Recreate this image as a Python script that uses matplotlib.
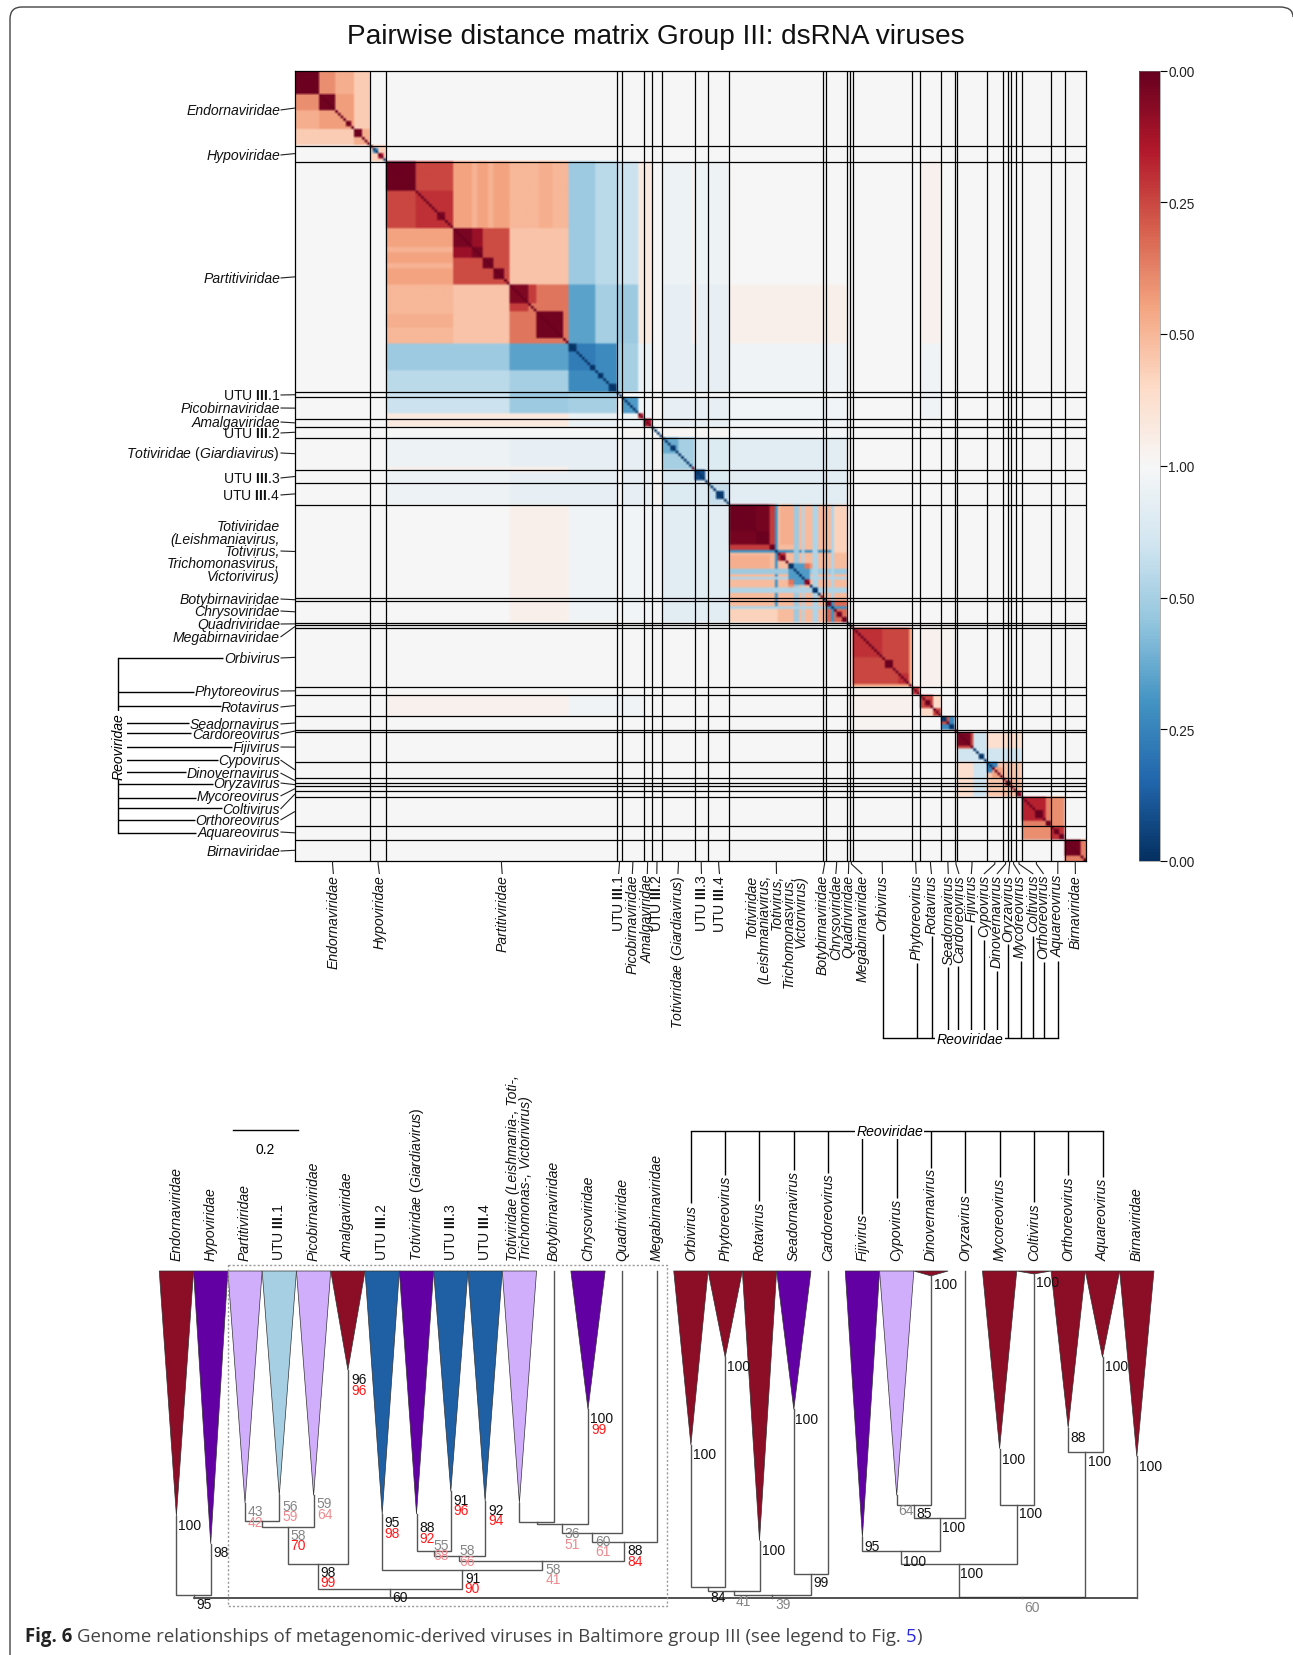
import numpy as np
import matplotlib
matplotlib.use('Agg')
import matplotlib.pyplot as plt
from matplotlib.path import Path
from matplotlib.patches import PathPatch

plt.rcParams['font.family'] = ['Liberation Sans', 'DejaVu Sans']
plt.rcParams['mathtext.fontset'] = 'custom'
plt.rcParams['mathtext.rm'] = 'Liberation Sans'
plt.rcParams['mathtext.it'] = 'Liberation Sans:italic'
plt.rcParams['mathtext.bf'] = 'Liberation Sans:bold'

W, H = 1293, 1656

####################### DADOS - matriz
n_seq = 295
group_edges = [0, 28, 34, 120, 122, 130, 133, 137, 149, 154, 162, 197, 198, 206, 207, 208,
               230, 233, 241, 246, 247, 258, 264, 266, 267, 269, 271, 282, 287, 295]

# (linha0, linha1, coluna0, coluna1, valor) - pintado em ordem e espelhado
between_blocks = [
    (122, 206, 122, 206, -0.12), (122, 133, 137, 162, -0.25), (137, 162, 137, 162, -0.4),
    (133, 137, 122, 206, 0.03),
    (137, 162, 34, 80, -0.15), (137, 162, 80, 120, -0.25),
    (162, 206, 137, 162, -0.35), (162, 206, 133, 137, -0.05), (162, 206, 122, 133, -0.08),
    (162, 206, 80, 102, 0.15), (162, 206, 102, 120, -0.1), (162, 206, 34, 80, 0.02),
    (149, 150, 80, 102, 0.15), (120, 128, 34, 80, -0.65), (120, 128, 80, 102, -1.1),
    (120, 128, 102, 120, -1.0), (128, 133, 34, 102, 0.3), (128, 133, 102, 120, -0.2),
    (148, 149, 34, 102, 0.15), (233, 241, 34, 102, 0.12), (233, 241, 102, 130, -0.1),
    (230, 246, 208, 230, 0.08), (233, 241, 208, 230, 0.12),
]
endorna_blocks = [
    (0, 28, 0, 28, 1.25), (0, 22, 22, 28, 0.75), (0, 9, 15, 22, 1.1), (0, 9, 9, 15, 1.4),
    (0, 9, 0, 9, 2.95), (9, 15, 9, 15, 2.9), (19, 21, 19, 21, 2.8),
    (22, 28, 22, 28, 1.1), (22, 25, 22, 25, 2.9),
]
hypo_blocks = [
    (28, 34, 28, 34, 0.7), (29, 31, 29, 31, -1.8), (31, 33, 31, 33, 2.4),
]
partiti_blocks = [
    (34, 102, 34, 102, 1.1), (34, 59, 59, 80, 1.2), (34, 59, 80, 102, 1.0), (59, 80, 80, 102, 0.85),
    (66, 68, 34, 59, 1.05), (72, 74, 34, 59, 1.05), (91, 96, 34, 59, 1.1), (96, 99, 59, 80, 0.85),
    (34, 59, 34, 59, 2.0), (34, 45, 34, 45, 2.95), (45, 59, 45, 59, 2.2), (51, 52, 51, 52, 2.9),
    (53, 56, 53, 56, 2.8), (59, 80, 59, 80, 1.95), (59, 70, 59, 70, 2.85), (66, 70, 59, 66, 2.6),
    (70, 74, 70, 74, 2.9), (74, 78, 74, 78, 2.9),
    (80, 102, 80, 102, 1.6), (80, 87, 80, 87, 2.8), (90, 100, 90, 100, 2.9), (87, 90, 80, 87, 2.1),
    (34, 80, 102, 112, -1.1), (34, 80, 112, 120, -0.8), (80, 102, 102, 112, -1.6),
    (80, 102, 112, 120, -1.0), (102, 120, 102, 120, -1.9), (102, 112, 102, 112, -2.1),
    (102, 105, 102, 105, -2.9), (110, 112, 110, 112, -2.9), (113, 115, 113, 115, -2.9),
    (117, 120, 117, 120, -2.9),
]
middle_blocks = [
    (122, 128, 122, 128, -1.7), (130, 133, 130, 133, 2.4), (128, 130, 128, 130, 2.2),
    (137, 143, 137, 143, -1.5), (140, 142, 140, 142, -2.8), (143, 149, 137, 149, -1.0),
    (149, 153, 149, 153, -2.7), (154, 162, 154, 162, -0.7), (157, 160, 157, 160, -2.8),
]
toti_blocks = [
    (162, 206, 162, 206, 0.95), (162, 206, 179, 180, -1.8), (162, 206, 186, 188, -1.1),
    (162, 206, 189, 190, -0.9), (162, 206, 193, 195, -0.9), (162, 206, 200, 201, -0.9),
    (162, 180, 201, 206, 0.7), (162, 177, 181, 186, 1.1), (186, 188, 186, 188, -1.2),
    (162, 177, 162, 177, 2.95), (172, 177, 162, 172, 2.88), (177, 179, 162, 177, 2.1),
    (177, 179, 177, 179, 2.9), (180, 183, 180, 183, 2.2), (181, 183, 181, 183, 2.8),
    (184, 192, 184, 192, -1.7), (184, 186, 184, 186, -2.9), (190, 192, 190, 192, 2.5),
    (190, 193, 184, 186, 1.6), (184, 186, 192, 193, 1.3), (193, 195, 193, 195, -2.9),
    (198, 206, 198, 206, 1.7), (198, 200, 198, 200, 2.8), (200, 201, 198, 206, -1.8),
    (202, 204, 202, 204, 2.8), (204, 206, 204, 206, 2.9),
]
reo_blocks = [
    (208, 230, 208, 230, 2.0), (208, 219, 208, 219, 2.2), (225, 229, 225, 229, 2.2),
    (220, 223, 220, 223, 2.95), (229, 230, 208, 230, 1.2),
    (230, 233, 230, 233, 2.1), (231, 232, 231, 232, 3.0),
    (233, 241, 233, 241, 0.6), (233, 238, 233, 238, 2.0), (235, 237, 235, 237, 2.9), (238, 241, 238, 241, 2.0),
    (241, 246, 241, 246, -1.9), (241, 243, 241, 243, -2.9), (244, 246, 244, 246, -2.9), (243, 244, 241, 243, 1.9),
    (247, 271, 247, 271, 0.5), (253, 258, 247, 271, -0.6), (247, 253, 247, 253, 2.0),
    (247, 252, 247, 252, 2.85), (255, 257, 255, 257, -2.9), (258, 271, 258, 271, 0.8),
    (258, 260, 258, 262, -2.0), (260, 264, 260, 264, 1.2), (264, 271, 264, 271, 0.9),
    (265, 267, 265, 267, 2.9), (269, 271, 269, 271, 2.6),
    (271, 287, 271, 287, 1.4), (271, 282, 271, 282, 2.3), (276, 279, 276, 279, 2.95),
    (280, 282, 271, 282, 1.5), (280, 282, 280, 282, 2.9), (282, 287, 282, 287, 2.2),
    (283, 285, 283, 285, 2.9), (285, 287, 285, 287, 2.9),
    (287, 295, 287, 295, 1.5), (287, 293, 287, 293, 2.9), (294, 295, 294, 295, 2.9),
]
# trechos da diagonal em azul escuro, o resto da diagonal e vermelho escuro
diag_blue = [(29, 31), (33, 34), (102, 128), (133, 148), (149, 162), (179, 180), (184, 190),
             (192, 196), (197, 198), (200, 201), (206, 207), (241, 243), (244, 246), (253, 260)]

cbar_ticks = [-3, -2, -1, 0, 1, 2, 3]
cbar_labels = ['0.00', '0.25', '0.50', '1.00', '0.50', '0.25', '0.00']

# nomes dos grupos (mesma ordem de group_edges)
group_names = ['Endornaviridae', 'Hypoviridae', 'Partitiviridae', 'UTU III.1', 'Picobirnaviridae',
               'Amalgaviridae', 'UTU III.2', 'Totiviridae (Giardiavirus)', 'UTU III.3', 'UTU III.4',
               'Totiviridae\n(Leishmaniavirus,\nTotivirus,\nTrichomonasvirus,\nVictorivirus)',
               'Botybirnaviridae', 'Chrysoviridae', 'Quadriviridae', 'Megabirnaviridae',
               'Orbivirus', 'Phytoreovirus', 'Rotavirus', 'Seadornavirus', 'Cardoreovirus', 'Fijivirus',
               'Cypovirus', 'Dinovernavirus', 'Oryzavirus', 'Mycoreovirus', 'Coltivirus',
               'Orthoreovirus', 'Aquareovirus', 'Birnaviridae']
# altura (pixel) de cada rotulo a esquerda e posicao x de cada rotulo abaixo
left_label_y = [111, 156, 279, 396, 409, 423, 434, 454, 479, 496, 552, 600, 612, 625, 638, 659,
                692, 708, 725, 735, 748, 761, 774, 784, 797, 810, 821, 833, 852]
bottom_label_x = [333.4, 379.4, 502.2, 618.6, 632.3, 647.3, 656.8, 677.9, 701.5, 719.5, 776.5,
                  822.8, 835.8, 848.4, 862.2, 882.5, 916.2, 931.5, 948.3, 959, 971.3, 983.9,
                  996.9, 1008.4, 1019.9, 1033.3, 1043.6, 1057.8, 1075.4]
# Reoviridae: fim das hastes em cada lado (pixel)
reo_left_end_x = [222.5, 193.8, 220.6, 188.8, 191, 232, 217.9, 185.7, 213.3, 195.7, 221.7, 194.9, 196.4]
reo_left_y = [659.3, 693.3, 707.3, 724.3, 734.3, 748.3, 761.3, 773.3, 785.3, 798.7, 809.3, 820.7, 834.3]
reo_bottom_x = [882.5, 916.6, 931.5, 947.6, 958.3, 971.3, 984.3, 996.5, 1008.4, 1021.4, 1033.3, 1043.6, 1057.8]
reo_bottom_top = [935, 964, 937, 968, 966.5, 926, 940.6, 972, 945, 961.7, 937, 962.8, 961.7]
reo_top_end = [1204, 1176, 1202, 1171, 1174, 1214.5, 1199, 1168.5, 1194, 1178, 1203, 1176, 1178]

####################### DADOS - arvore
DRED, PURP, LAV, LBLUE, BLUE = '#8b0d26', '#6200a4', '#d0aefb', '#a6cfe3', '#1f5fa3'
tree_names = ['Endornaviridae', 'Hypoviridae', 'Partitiviridae', 'UTU III.1', 'Picobirnaviridae',
              'Amalgaviridae', 'UTU III.2', 'Totiviridae (Giardiavirus)', 'UTU III.3', 'UTU III.4',
              'Totiviridae (Leishmania-, Toti-,\nTrichomonas-, Victorivirus)', 'Botybirnaviridae',
              'Chrysoviridae', 'Quadriviridae', 'Megabirnaviridae', 'Orbivirus', 'Phytoreovirus',
              'Rotavirus', 'Seadornavirus', 'Cardoreovirus', 'Fijivirus', 'Cypovirus', 'Dinovernavirus',
              'Oryzavirus', 'Mycoreovirus', 'Coltivirus', 'Orthoreovirus', 'Aquareovirus', 'Birnaviridae']
tip_depth = [0.749, 0.834, 0.709, 0.686, 0.686, 0.303, 0.743, 0.743, 0.674, 0.703, 0.709, 0, 0.423, 0, 0,
             0.532, 0.264, 0.825, 0.423, 0, 0.814, 0.686, 0.015, 0, 0.543, 0.009, 0.479, 0.264, 0.567]
tip_color = [DRED, PURP, LAV, LBLUE, LAV, DRED, BLUE, PURP, BLUE, BLUE, LAV, None, PURP, None, None,
             DRED, DRED, DRED, PURP, None, PURP, LAV, DRED, None, DRED, DRED, DRED, DRED, DRED]
# (filho esquerdo, filho direito, profundidade) - filho int e folha, str e no
tree_nodes = {
    'n1': (0, 1, 0.992), 'n2': (2, 3, 0.766), 'n3': ('n2', 4, 0.782), 'n4': ('n3', 5, 0.895),
    'n5': (7, 8, 0.855), 'n6': ('n5', 9, 0.871), 'n7': (10, 11, 0.769), 'n8': ('n7', 12, 0.775),
    'n9': ('n8', 13, 0.802), 'n10': ('n9', 14, 0.829), 'n11': ('n6', 'n10', 0.886),
    'n12': (6, 'n11', 0.914), 'n13': ('n4', 'n12', 0.971),
    'n14': (15, 16, 0.967), 'n15': ('n14', 17, 0.980), 'n16': (18, 19, 0.926), 'n17': ('n15', 'n16', 0.991),
    'n18': (21, 22, 0.715), 'n19': ('n18', 23, 0.756), 'n20': (20, 'n19', 0.857), 'n21': (24, 25, 0.715),
    'n22': ('n20', 'n21', 0.897), 'n23': (26, 27, 0.554), 'n24': ('n22', 'n23', 0.997),
}
root_children = ['n1', 'n13', 'n17', 'n24', 28]

K, G, R, P = '#111111', '#858585', '#ff1a1a', '#ee8b90'
support = [
    (190, 1526, '100', K), (221.4, 1552.8, '98', K), (204.3, 1605, '95', K),
    (255.4, 1512, '43', G), (255.4, 1523, '42', P), (290.4, 1506.9, '56', G), (290.4, 1517.3, '59', P),
    (324.6, 1504, '59', G), (324.6, 1514.7, '64', P), (298.2, 1536, '58', G), (298.2, 1546.5, '70', R),
    (358.9, 1380, '96', K), (358.9, 1390.6, '96', R), (328.2, 1572.6, '98', K), (328.2, 1583, '99', R),
    (400, 1597.6, '60', K), (392.5, 1523.3, '95', K), (392.5, 1533.7, '98', R),
    (426.8, 1528, '88', K), (426.8, 1538.6, '92', R), (440.7, 1546.5, '55', G), (440.7, 1556.5, '68', P),
    (461.4, 1501, '91', K), (461.4, 1511.3, '96', R), (467.5, 1551.3, '58', G), (467.5, 1561.8, '66', P),
    (495.7, 1510.6, '92', K), (495.7, 1520.7, '94', R), (472.5, 1579, '91', K), (472.5, 1589.4, '90', R),
    (552.9, 1570, '58', G), (552.9, 1580.5, '41', P), (572.5, 1533.7, '36', G), (572.5, 1544.6, '51', P),
    (602.5, 1542, '60', G), (602.5, 1552.4, '61', P), (602, 1419.4, '100', K), (599, 1429.9, '99', R),
    (635.4, 1551.3, '88', K), (635.4, 1561.8, '84', R),
    (704.4, 1455, '100', K), (739, 1367, '100', K), (773.8, 1551.5, '100', K), (807, 1420, '100', K),
    (821.5, 1583, '99', K), (718.5, 1597.8, '84', K), (743.6, 1602, '41', G), (783, 1605, '39', G),
    (945.4, 1285, '100', K), (1047.6, 1283, '100', K), (1013.2, 1460.5, '100', K), (1099.2, 1461.6, '100', K),
    (1077.8, 1438.2, '88', K), (1116.2, 1367.5, '100', K), (1150.5, 1467, '100', K),
    (906.3, 1510.7, '64', G), (924, 1514.5, '85', K), (953.5, 1528, '100', K), (1030.6, 1514.5, '100', K),
    (872.4, 1547, '95', K), (914.3, 1561.6, '100', K), (972, 1574.5, '100', K), (1031.8, 1607.6, '60', G),
]

####################### MONTA A MATRIZ
matrix = np.zeros((n_seq, n_seq))
for blocks in [between_blocks, endorna_blocks, hypo_blocks, partiti_blocks,
               middle_blocks, toti_blocks, reo_blocks]:
    for r0, r1, c0, c1, val in blocks:
        matrix[r0:r1, c0:c1] = val
        matrix[c0:c1, r0:r1] = val
np.fill_diagonal(matrix, 3)
for d0, d1 in diag_blue:
    for i in range(d0, d1):
        matrix[i, i] = -3


def rect(x0, y0, x1, y1):
    # retangulo em pixels da imagem -> fracao da figura
    return [x0 / W, 1 - y1 / H, (x1 - x0) / W, (y1 - y0) / H]


def fmt(name):
    # so o que e romano fica fora do italico
    if name.startswith('UTU'):
        return name.replace('III', r'$\mathbf{III}$')
    if 'Giardia' in name:
        return r'$\mathit{Totiviridae}$ ($\mathit{Giardiavirus}$)'
    return name


def style(name):
    return 'normal' if name.startswith('UTU') or 'Giardia' in name else 'italic'


fig = plt.figure(figsize=(W / 100, H / 100), dpi=100, facecolor='white')

MX0, MX1, MY0, MY1 = 295, 1086, 71.5, 862
cell_x = (MX1 - MX0) / n_seq
cell_y = (MY1 - MY0) / n_seq

ax = fig.add_axes(rect(MX0, MY0, MX1, MY1))
im = ax.imshow(matrix, cmap='RdBu_r', vmin=-3, vmax=3, extent=(0, n_seq, n_seq, 0),
               aspect='auto', interpolation='bilinear')
for e in group_edges[1:-1]:
    ax.axhline(e, color='black', lw=0.9)
    ax.axvline(e, color='black', lw=0.9)
ax.set_xticks([])
ax.set_yticks([])
for s in ax.spines.values():
    s.set_linewidth(0.9)

cax = fig.add_axes(rect(1139, MY0, 1160, MY1))
cbar = fig.colorbar(im, cax=cax, ticks=cbar_ticks)
cbar.ax.set_yticklabels(cbar_labels, fontsize=9.8, color='#222222')
cbar.ax.tick_params(length=5, width=0.8, pad=1)
cbar.outline.set_linewidth(0.4)
cbar.outline.set_edgecolor('#777777')

# eixo de sobreposicao em pixels, para textos e ligacoes
ov = fig.add_axes([0, 0, 1, 1], zorder=5)
ov.set_xlim(0, W)
ov.set_ylim(H, 0)
ov.axis('off')
ov.patch.set_alpha(0)

ov.text(656, 37, 'Pairwise distance matrix Group III: dsRNA viruses', ha='center', va='center',
        fontsize=20.2, color='#111111')

LW = 0.8
FS = 10.1
white = dict(facecolor='white', edgecolor='none', pad=1)
for i, name in enumerate(group_names):
    mid = (group_edges[i] + group_edges[i + 1]) / 2
    gy = MY0 + mid * cell_y
    gx = MX0 + mid * cell_x
    ly = left_label_y[i]
    lx = bottom_label_x[i]
    ov.plot([280.5, MX0], [ly, gy], color='#222222', lw=LW, solid_capstyle='butt')
    ov.text(280, ly, fmt(name), ha='right', va='center', fontsize=FS, style=style(name),
            linespacing=0.85, multialignment='right', color='#111111')
    ov.plot([gx, gx, lx], [MY1, MY1 + 3, 875], color='#222222', lw=LW, solid_capstyle='butt')
    ov.text(lx, 875, fmt(name), ha='center', va='top', rotation=90, fontsize=FS, style=style(name),
            linespacing=0.85, multialignment='right', color='#111111')

# chaves Reoviridae na matriz
ov.plot([118.4, 118.4], [reo_left_y[0], reo_left_y[-1]], color='black', lw=1)
for y, x in zip(reo_left_y, reo_left_end_x):
    ov.plot([118.4, x], [y, y], color='black', lw=1, solid_capstyle='butt')
ov.text(118.4, 746.5, 'Reoviridae', rotation=90, ha='center', va='center', fontsize=FS,
        style='italic', bbox=white, zorder=6)
ov.plot([reo_bottom_x[0], reo_bottom_x[-1]], [1039.4, 1039.4], color='black', lw=1)
for x, y in zip(reo_bottom_x, reo_bottom_top):
    ov.plot([x, x], [y, 1039.4], color='black', lw=1, solid_capstyle='butt')
ov.text(969.8, 1039.7, 'Reoviridae', ha='center', va='center', fontsize=FS, style='italic', bbox=white, zorder=6)

####################### ARVORE
SLOT0, SLOT_W = 176.4, 34.3
TY0, TY1 = 1272, 1599
tx = fig.add_axes(rect(SLOT0 - SLOT_W / 2, TY0, SLOT0 + 28.5 * SLOT_W, TY1), zorder=2)
tx.set_xlim(-0.5, 28.5)
tx.set_ylim(1, 0)
tx.axis('off')

node_x = {}


def pos(c):
    if isinstance(c, int):
        return c, tip_depth[c]
    return node_x[c], tree_nodes[c][2]


BR = '#555555'
for key, (a, b, depth) in tree_nodes.items():
    xa, da = pos(a)
    xb, db = pos(b)
    node_x[key] = (xa + xb) / 2
    tx.plot([xa, xa, xb, xb], [da, depth, depth, db], color=BR, lw=1, solid_joinstyle='miter', clip_on=False)

rx = [pos(c) for c in root_children]
tx.plot([rx[0][0], rx[-1][0]], [1, 1], color='#333333', lw=1.2, clip_on=False)
for x, d in rx:
    tx.plot([x, x], [d, 1], color=BR, lw=1, clip_on=False)

for i, (d, col) in enumerate(zip(tip_depth, tip_color)):
    if col is not None:
        tx.fill([i - 0.5, i + 0.5, i], [0, 0, d], facecolor=col, edgecolor='#333333', lw=0.5, clip_on=False)

for i, name in enumerate(tree_names):
    x = SLOT0 + i * SLOT_W
    ov.text(x, 1261, fmt(name), rotation=90, ha='center', va='bottom', fontsize=FS, style=style(name),
            linespacing=0.9, multialignment='left', color='#111111')

# chave Reoviridae da arvore
reo_x = [SLOT0 + i * SLOT_W for i in range(15, 28)]
ov.plot([reo_x[0], reo_x[-1]], [1131.6, 1131.6], color='black', lw=1)
for x, y in zip(reo_x, reo_top_end):
    ov.plot([x, x], [1131.6, y], color='black', lw=1, solid_capstyle='butt')
ov.text(889.7, 1132, 'Reoviridae', ha='center', va='center', fontsize=FS, style='italic', bbox=white, zorder=6)

for x, y, t, c in support:
    ov.text(x, y, t, ha='center', va='center', fontsize=10, color=c)

# barra de escala e caixa pontilhada
ov.plot([232.5, 297.5], [1131, 1131], color='black', lw=1)
ov.text(265, 1150, '0.2', ha='center', va='center', fontsize=10)
ov.plot([228, 667, 667, 228, 228], [1266, 1266, 1607, 1607, 1266], color='#999999', lw=1, ls=(0, (1.5, 1.5)))

# contorno da pagina e legenda
verts = [(10, 1656), (10, 1646), (10, 20), (10, 8), (22, 8), (1280, 8), (1293, 8), (1293, 18)]
codes = [Path.MOVETO, Path.LINETO, Path.LINETO, Path.CURVE3, Path.CURVE3, Path.LINETO, Path.CURVE3, Path.CURVE3]
ov.add_patch(PathPatch(Path(verts, codes), fill=False, edgecolor='#444444', lw=1))

cap_x = 25
fig.canvas.draw()
renderer = fig.canvas.get_renderer()
for txt, wgt, col in [('Fig. 6 ', 'bold', '#222222'),
                      ('Genome relationships of metagenomic-derived viruses in Baltimore group III (see legend to Fig. ', 'normal', '#444444'),
                      ('5', 'normal', '#2a2ad8'), (')', 'normal', '#444444')]:
    t = ov.text(cap_x, 1637, txt, ha='left', va='center', fontsize=13.45, fontweight=wgt, color=col,
                family=['Open Sans', 'DejaVu Sans'])
    bb = t.get_window_extent(renderer)
    cap_x += bb.width

fig.savefig('out.png', dpi=100)
